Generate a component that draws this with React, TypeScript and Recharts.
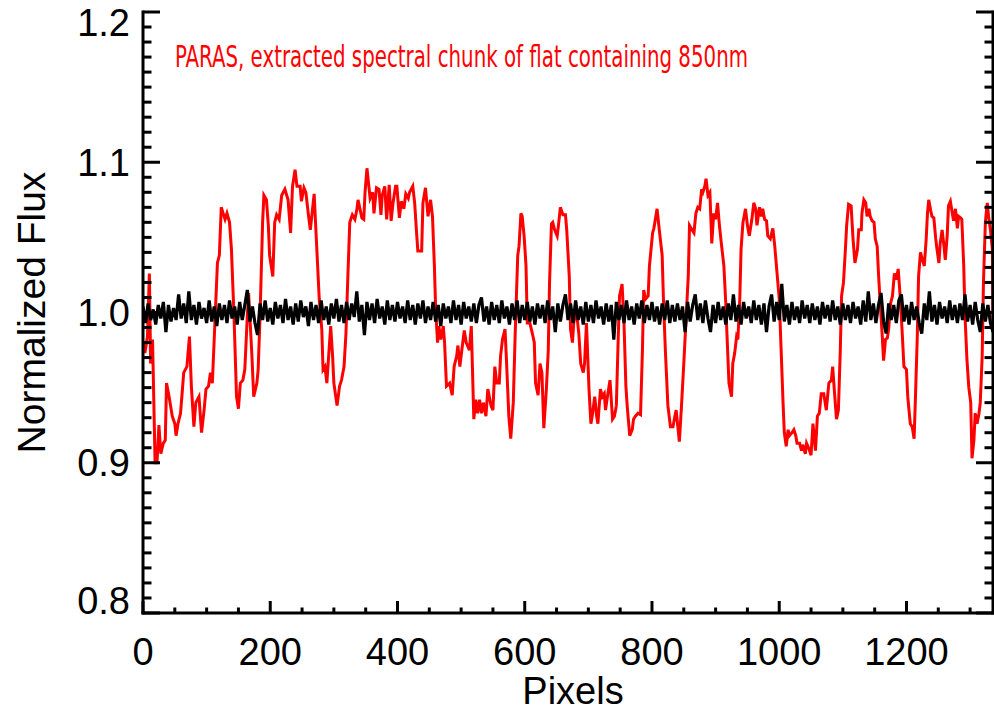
import { Label, Line, LineChart, XAxis, YAxis } from "recharts";

// extracted spectral chunk (red), sampled along the detector
const redPixels = [
  0, 3, 7, 10, 12, 15, 19, 22, 25, 28, 32, 35, 37, 41, 46, 50, 52, 55, 59, 62,
  64, 69, 73, 76, 80, 83, 88, 92, 96, 99, 103, 106, 109, 113, 117, 120, 123, 126, 129, 132,
  136, 139, 143, 147, 150, 153, 157, 160, 164, 166, 171, 174, 179, 181, 184, 188, 190, 194, 197, 199,
  204, 207, 210, 214, 218, 223, 228, 232, 235, 239, 242, 247, 249, 253, 256, 260, 263, 269, 273, 277,
  281, 283, 286, 289, 291, 295, 298, 300, 305, 309, 312, 316, 319, 322, 325, 329, 333, 336, 338, 341,
  344, 347, 349, 352, 357, 361, 363, 367, 371, 374, 376, 380, 383, 387, 390, 393, 397, 399, 403, 406,
  410, 413, 417, 419, 424, 427, 430, 432, 438, 440, 444, 448, 452, 455, 458, 460, 463, 465, 468, 472,
  474, 477, 482, 486, 489, 493, 495, 498, 502, 505, 508, 513, 516, 520, 523, 526, 529, 532, 535, 539,
  542, 547, 550, 553, 556, 560, 562, 565, 569, 571, 575, 578, 582, 585, 589, 591, 594, 596, 599, 602,
  604, 608, 612, 615, 617, 621, 624, 627, 630, 634, 637, 639, 642, 644, 647, 651, 653, 656, 660, 664,
  666, 670, 672, 675, 677, 681, 685, 688, 692, 694, 697, 701, 704, 706, 710, 713, 715, 719, 722, 725,
  727, 730, 734, 738, 741, 744, 747, 749, 753, 756, 759, 761, 765, 769, 771, 774, 778, 782, 785, 787,
  790, 794, 796, 801, 803, 808, 812, 816, 818, 821, 825, 829, 833, 836, 838, 843, 846, 850, 853, 857,
  859, 863, 866, 869, 872, 875, 878, 880, 883, 885, 888, 891, 894, 897, 900, 903, 906, 909, 913, 916,
  918, 921, 925, 927, 930, 933, 935, 938, 940, 943, 947, 950, 953, 957, 960, 963, 965, 969, 972, 974,
  977, 980, 982, 986, 990, 993, 996, 1000, 1003, 1006, 1008, 1011, 1014, 1016, 1020, 1023, 1026, 1028, 1032, 1035,
  1037, 1041, 1043, 1047, 1050, 1053, 1057, 1060, 1063, 1066, 1070, 1074, 1078, 1082, 1084, 1087, 1090, 1093, 1096, 1098,
  1101, 1104, 1106, 1109, 1113, 1116, 1119, 1123, 1125, 1129, 1130, 1133, 1136, 1138, 1141, 1143, 1146, 1149, 1151, 1154,
  1156, 1159, 1162, 1164, 1167, 1170, 1172, 1175, 1178, 1181, 1184, 1187, 1190, 1193, 1196, 1200, 1202, 1206, 1209, 1212,
  1214, 1217, 1219, 1222, 1225, 1228, 1231, 1233, 1235, 1238, 1240, 1243, 1246, 1248, 1251, 1253, 1256, 1259, 1261, 1264,
  1266, 1269, 1272, 1274, 1277, 1280, 1282, 1285, 1287, 1290, 1292, 1295, 1298, 1301, 1303, 1306, 1308, 1311, 1314, 1316,
  1319, 1321, 1324, 1327, 1329, 1332, 1335, 1336,
];

const redFlux = [
  0.98, 0.973, 0.984, 1.026, 0.966, 0.982, 0.9, 0.9, 0.925, 0.906, 0.913, 0.915, 0.953, 0.944, 0.931, 0.926, 0.918, 0.926, 0.933, 0.949,
  0.96, 0.964, 0.984, 0.951, 0.924, 0.94, 0.944, 0.92, 0.935, 0.949, 0.951, 0.96, 0.953, 0.993, 1.033, 1.038, 1.07, 1.066, 1.062, 1.066,
  1.06, 1.042, 0.998, 0.944, 0.936, 0.953, 0.955, 0.962, 0.998, 1.013, 0.973, 0.944, 0.953, 0.962, 0.998, 1.06, 1.078, 1.075, 1.058, 1.038,
  1.024, 1.06, 1.065, 1.062, 1.078, 1.082, 1.075, 1.053, 1.084, 1.095, 1.084, 1.084, 1.074, 1.083, 1.08, 1.065, 1.055, 1.079, 1.044, 1.009,
  0.989, 0.962, 0.964, 0.953, 0.966, 0.991, 0.971, 0.953, 0.938, 0.951, 0.955, 0.964, 0.986, 1.024, 1.06, 1.065, 1.062, 1.068, 1.075, 1.069,
  1.063, 1.062, 1.08, 1.096, 1.076, 1.08, 1.066, 1.083, 1.082, 1.065, 1.078, 1.084, 1.062, 1.085, 1.061, 1.073, 1.084, 1.084, 1.063, 1.074,
  1.069, 1.079, 1.076, 1.08, 1.084, 1.073, 1.053, 1.041, 1.041, 1.073, 1.083, 1.064, 1.075, 1.064, 1.031, 1.002, 0.98, 0.991, 0.982, 0.991,
  0.98, 0.951, 0.953, 0.945, 0.964, 0.971, 0.978, 0.964, 0.978, 0.988, 0.98, 0.975, 0.991, 0.929, 0.942, 0.933, 0.942, 0.933, 0.94, 0.931,
  0.949, 0.938, 0.935, 0.964, 0.953, 0.953, 0.971, 0.982, 0.989, 0.971, 0.931, 0.916, 0.94, 0.986, 1.038, 1.044, 1.066, 1.064, 1.051, 1.031,
  0.993, 0.993, 0.986, 0.98, 0.953, 0.945, 0.966, 0.96, 0.923, 0.949, 0.975, 1.02, 1.059, 1.06, 1.055, 1.051, 1.058, 1.07, 1.065, 1.065,
  1.055, 1.024, 0.989, 0.98, 0.993, 1.002, 0.986, 0.966, 0.96, 0.966, 0.993, 0.949, 0.926, 0.931, 0.944, 0.931, 0.926, 0.949, 0.944, 0.946,
  0.935, 0.944, 0.955, 0.929, 0.931, 0.938, 0.984, 1.011, 1.019, 0.993, 0.951, 0.938, 0.918, 0.922, 0.929, 0.931, 0.933, 0.932, 0.975, 1.015,
  1.009, 1.011, 1.031, 1.053, 1.056, 1.069, 1.053, 1.038, 1.009, 0.975, 0.938, 0.924, 0.924, 0.931, 0.935, 0.914, 0.935, 0.966, 0.991, 1.024,
  1.058, 1.055, 1.053, 1.066, 1.07, 1.069, 1.082, 1.08, 1.084, 1.089, 1.078, 1.08, 1.046, 1.066, 1.062, 1.073, 1.058, 1.046, 1.031, 1.006,
  0.984, 0.953, 0.944, 0.966, 0.973, 0.984, 0.982, 1.009, 1.042, 1.06, 1.069, 1.058, 1.051, 1.062, 1.073, 1.069, 1.058, 1.07, 1.064, 1.069,
  1.062, 1.061, 1.051, 1.049, 1.056, 1.044, 1.029, 1.009, 0.975, 0.94, 0.92, 0.911, 0.922, 0.918, 0.92, 0.922, 0.918, 0.913, 0.913, 0.908,
  0.912, 0.906, 0.913, 0.909, 0.905, 0.926, 0.908, 0.931, 0.933, 0.946, 0.946, 0.935, 0.953, 0.955, 0.964, 0.946, 0.929, 0.935, 0.975, 1.011,
  1.02, 1.042, 1.058, 1.072, 1.071, 1.049, 1.033, 1.042, 1.055, 1.055, 1.066, 1.075, 1.073, 1.064, 1.069, 1.064, 1.061, 1.06, 1.049, 1.044,
  1.026, 1.004, 0.984, 0.968, 0.982, 0.983, 0.989, 1.006, 1.011, 1.026, 1.022, 1.029, 1.011, 0.989, 0.964, 0.962, 0.944, 0.926, 0.924, 0.916,
  0.942, 0.984, 1.024, 1.04, 1.035, 1.031, 1.049, 1.066, 1.075, 1.068, 1.064, 1.063, 1.049, 1.042, 1.033, 1.046, 1.055, 1.044, 1.035, 1.051,
  1.071, 1.074, 1.066, 1.061, 1.069, 1.056, 1.064, 1.063, 1.062, 1.031, 0.998, 0.969, 0.95, 0.94, 0.903, 0.915, 0.933, 0.926, 0.933, 0.94,
  0.971, 1.02, 1.06, 1.073, 1.064, 1.055, 1.042, 0.99,
];

// normalized chunk (black), one reading every 4 pixels
const BLACK_STEP = 4;
const blackFlux = [
  1.004, 0.993, 1.006, 0.995, 1.002, 0.992, 1.005, 0.996, 1.007, 0.987,
  1.005, 0.994, 1.003, 0.995, 1.012, 0.996, 1.006, 0.993, 1.014, 0.995,
  1.005, 0.992, 1.007, 0.996, 1.003, 0.993, 1.008, 0.994, 1.004, 0.991,
  1.006, 0.995, 1.005, 0.993, 1.008, 0.996, 1.004, 0.992, 1.007, 0.995,
  1.005, 1.015, 0.994, 1.004, 0.993, 0.985, 1.006, 0.995, 1.008, 0.994,
  1.003, 0.992, 1.007, 0.996, 1.005, 0.993, 1.009, 0.995, 1.004, 0.992,
  1.006, 0.994, 1.008, 0.997, 1.004, 0.991, 1.007, 0.995, 1.005, 0.993,
  1.008, 0.995, 1.004, 0.992, 1.006, 0.996, 1.009, 0.994, 1.005, 0.993,
  1.007, 0.995, 1.006, 0.997, 1.014, 0.994, 1.005, 0.985, 1.007, 0.995,
  1.006, 0.993, 1.009, 0.996, 1.004, 0.992, 1.008, 0.995, 1.005, 0.994,
  1.007, 0.996, 1.004, 0.993, 1.008, 0.995, 1.005, 0.992, 1.006, 0.996,
  1.008, 0.993, 1.004, 0.995, 1.007, 0.994, 1.005, 0.991, 1.006, 0.996,
  1.004, 0.993, 1.008, 0.995, 1.005, 0.992, 1.007, 0.996, 1.004, 0.994,
  1.006, 0.993, 1.005, 1.01, 0.994, 1.004, 0.992, 1.007, 0.995, 1.005,
  0.993, 1.008, 0.996, 1.004, 0.992, 1.006, 0.995, 1.008, 0.993, 1.005,
  0.995, 1.007, 0.994, 1.004, 0.992, 1.006, 0.996, 1.005, 0.993, 1.008,
  0.995, 1.004, 0.987, 1.006, 0.994, 1.005, 1.012, 0.995, 1.006, 0.993,
  1.008, 0.995, 1.004, 0.992, 1.007, 0.994, 1.005, 0.993, 1.008, 0.996,
  1.004, 0.992, 1.006, 0.994, 1.005, 0.982, 1.007, 0.995, 1.005, 0.993,
  1.008, 0.995, 1.004, 0.992, 1.006, 0.996, 1.008, 0.993, 1.005, 0.995,
  1.007, 0.994, 1.004, 0.992, 1.006, 0.995, 1.008, 0.993, 1.005, 0.994,
  1.006, 0.995, 1.004, 0.987, 1.007, 0.994, 1.005, 1.012, 0.995, 1.006,
  0.993, 1.008, 0.996, 0.987, 1.005, 0.993, 1.007, 0.995, 1.004, 0.992,
  1.006, 0.995, 1.012, 0.994, 1.005, 0.992, 1.007, 0.996, 1.004, 0.993,
  1.008, 0.995, 1.005, 0.992, 1.006, 0.987, 1.004, 1.012, 0.994, 1.007,
  0.995, 1.019, 0.994, 1.005, 0.992, 1.007, 0.995, 1.004, 0.993, 1.008,
  0.996, 1.005, 0.993, 1.006, 0.995, 1.004, 0.992, 1.007, 0.996, 1.005,
  0.994, 1.008, 0.995, 1.004, 0.992, 1.006, 0.995, 1.005, 0.993, 1.007,
  0.996, 1.004, 0.992, 1.008, 0.994, 1.014, 0.995, 1.006, 0.993, 1.005,
  1.013, 0.994, 0.986, 1.006, 0.995, 1.005, 0.993, 1.008, 1.012, 0.994,
  1.005, 0.992, 1.007, 0.995, 1.004, 0.993, 0.986, 1.006, 0.995, 1.014,
  0.994, 1.005, 0.992, 1.007, 0.996, 1.004, 0.993, 1.008, 0.995, 1.005,
  0.993, 1.006, 0.995, 1.012, 0.994, 1.005, 0.992, 1.007, 0.995, 0.987,
  1.006, 0.994, 1.005, 0.993, 0.987,
];

const xMajorTicks = [0, 200, 400, 600, 800, 1000, 1200];
const yMajorTicks = [0.8, 0.9, 1.0, 1.1, 1.2];
const X_MAX = 1336;
const X_MINOR = 50;
const Y_MINOR = 0.01;

const xTicks: number[] = [];
for (let v = 0; v <= X_MAX; v += X_MINOR) xTicks.push(v);
const yTicks: number[] = [];
for (let v = yMajorTicks[0]; v <= 1.2001; v += Y_MINOR) yTicks.push(Math.round(v * 100) / 100);

const redData = redPixels.map((x, i) => ({ x, flux: redFlux[i] }));
const blackData = blackFlux.map((flux, i) => ({ x: i * BLACK_STEP, flux }));

const FONT = "'Liberation Sans', Arial, Helvetica, sans-serif";
const TITLE_FONT = "'Liberation Sans Narrow', 'DejaVu Sans Condensed', 'Liberation Sans', sans-serif";
const TOP = 12;
const BOTTOM = 613;

const isXMajor = (v: number) => xMajorTicks.includes(v);
const isYMajor = (v: number) => Math.round(v * 100) % 10 === 0;

const BottomTick = (props: any) => {
  const { x, y, payload } = props;
  const major = isXMajor(payload.value);
  return (
    <g>
      <line x1={x} x2={x} y1={y} y2={y - (major ? 12 : 5.5)} stroke="#000" strokeWidth={3} />
      {major && (
        <text x={x} y={y + 52} textAnchor="middle" fontSize={38} fontFamily={FONT} fill="#000">
          {payload.value}
        </text>
      )}
    </g>
  );
};

const TopTick = (props: any) => {
  const { x, y, payload } = props;
  const major = isXMajor(payload.value);
  return <line x1={x} x2={x} y1={y} y2={y + (major ? 12 : 5.5)} stroke="#000" strokeWidth={3} />;
};

const LeftTick = (props: any) => {
  const { x, y, payload } = props;
  const major = isYMajor(payload.value);
  const center = Math.min(Math.max(y, TOP + 10), BOTTOM - 13);
  return (
    <g>
      <line x1={x} x2={x + (major ? 17 : 8.5)} y1={y} y2={y} stroke="#000" strokeWidth={3} />
      {major && (
        <text x={x - 13} y={center + 13.5} textAnchor="end" fontSize={38} fontFamily={FONT} fill="#000">
          {payload.value.toFixed(1)}
        </text>
      )}
    </g>
  );
};

const RightTick = (props: any) => {
  const { x, y, payload } = props;
  const major = isYMajor(payload.value);
  return <line x1={x} x2={x - (major ? 17 : 8.5)} y1={y} y2={y} stroke="#000" strokeWidth={3} />;
};

const axisLine = { stroke: "#000", strokeWidth: 3, strokeLinecap: "square" as const };

export default function App() {
  return (
    <div style={{ position: "fixed", left: 0, top: 0, background: "#fff" }}>
      <LineChart width={994} height={711} margin={{ top: TOP, right: 0, bottom: 0, left: 0 }}>
        <XAxis
          xAxisId="bottom"
          type="number"
          dataKey="x"
          domain={[0, X_MAX]}
          ticks={xTicks}
          interval={0}
          height={98}
          axisLine={axisLine}
          tickLine={false}
          tickSize={0}
          tickMargin={0}
          tick={BottomTick}
          allowDataOverflow
        >
          <Label
            content={(p: any) => (
              <text
                x={p.viewBox.x + p.viewBox.width / 2 + 5}
                y={p.viewBox.y + 91}
                textAnchor="middle"
                fontSize={38}
                fontFamily={FONT}
                fill="#000"
              >
                Pixels
              </text>
            )}
          />
        </XAxis>
        <XAxis
          xAxisId="top"
          orientation="top"
          type="number"
          dataKey="x"
          domain={[0, X_MAX]}
          ticks={xTicks}
          interval={0}
          height={0}
          axisLine={axisLine}
          tickLine={false}
          tickSize={0}
          tickMargin={0}
          tick={TopTick}
          allowDataOverflow
        />
        <YAxis
          yAxisId="left"
          type="number"
          domain={[0.8, 1.2]}
          ticks={yTicks}
          interval={0}
          width={143}
          axisLine={axisLine}
          tickLine={false}
          tickSize={0}
          tickMargin={0}
          tick={LeftTick}
          allowDataOverflow
        >
          <Label
            content={(p: any) => {
              const cx = 45;
              const cy = p.viewBox.y + p.viewBox.height / 2;
              return (
                <g>
                  <text
                    x={cx}
                    y={cy}
                    transform={`rotate(-90 ${cx} ${cy})`}
                    textAnchor="middle"
                    fontSize={39}
                    fontFamily={FONT}
                    fill="#000"
                  >
                    Normalized Flux
                  </text>
                  <text
                    x={p.viewBox.x + p.viewBox.width + 32}
                    y={p.viewBox.y + 55}
                    fontSize={30}
                    fontFamily={TITLE_FONT}
                    fill="#ff0000"
                    textLength={573}
                    lengthAdjust="spacingAndGlyphs"
                  >
                    PARAS, extracted spectral chunk of flat containing 850nm
                  </text>
                </g>
              );
            }}
          />
        </YAxis>
        <YAxis
          yAxisId="right"
          orientation="right"
          type="number"
          domain={[0.8, 1.2]}
          ticks={yTicks}
          interval={0}
          width={1}
          axisLine={axisLine}
          tickLine={false}
          tickSize={0}
          tickMargin={0}
          tick={RightTick}
          allowDataOverflow
        />
        <Line
          xAxisId="bottom"
          yAxisId="left"
          data={redData}
          dataKey="flux"
          type="linear"
          stroke="#ff0000"
          strokeWidth={3}
          dot={false}
          isAnimationActive={false}
        />
        <Line
          xAxisId="bottom"
          yAxisId="left"
          data={blackData}
          dataKey="flux"
          type="linear"
          stroke="#000"
          strokeWidth={3.2}
          dot={false}
          isAnimationActive={false}
        />
      </LineChart>
    </div>
  );
}
